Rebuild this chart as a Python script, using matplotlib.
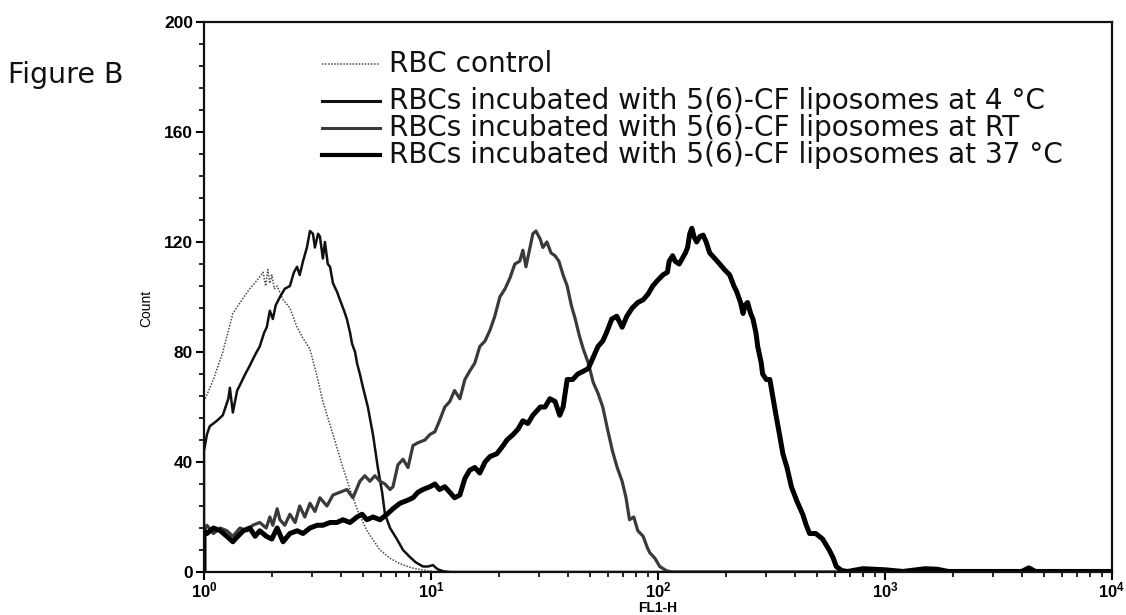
import matplotlib
matplotlib.use("Agg")
import matplotlib.pyplot as plt
from matplotlib.ticker import MultipleLocator, LogLocator, NullFormatter, FixedLocator

plt.rcParams['font.family'] = ['Liberation Sans', 'DejaVu Sans']
plt.rcParams['mathtext.fontset'] = 'custom'
plt.rcParams['mathtext.rm'] = 'Liberation Sans:bold'
plt.rcParams['mathtext.bf'] = 'Liberation Sans:bold'
plt.rcParams['mathtext.it'] = 'Liberation Sans:bold'

# ---------------- data (FL1-H, Count) ----------------
ctrl_x = [1.00, 1.10, 1.21, 1.34, 1.47, 1.59, 1.71, 1.82, 1.87, 1.91, 1.95, 1.99, 2.04, 2.10,
          2.23, 2.39, 2.57, 2.73, 2.93, 3.15, 3.34, 3.70, 4.09, 4.40, 4.77, 5.22, 5.96,
          6.60, 7.30, 8.24, 9.22, 10.4, 11.5, 10000]
ctrl_y = [62, 70, 80, 94, 99, 103, 106, 109, 104, 110, 105, 108, 103, 104,
          99, 96, 89, 85, 81, 71, 62, 50, 38, 30, 22, 15, 8,
          5, 3, 1.5, 0.7, 0.2, 0, 0]

c4_x = [1.00, 1.00, 1.03, 1.06, 1.14, 1.21, 1.28, 1.30, 1.34, 1.40, 1.44, 1.52, 1.59, 1.68,
        1.76, 1.84, 1.89, 1.95, 2.01, 2.07, 2.16, 2.27, 2.39, 2.49, 2.57, 2.64, 2.73, 2.84,
        2.93, 3.02, 3.08, 3.18, 3.24, 3.34, 3.41, 3.51, 3.59, 3.70, 3.85, 3.97, 4.14, 4.26,
        4.40, 4.49, 4.63, 4.72, 4.86, 5.02, 5.27, 5.55, 5.83, 6.09, 6.27, 6.60, 7.07, 7.53,
        8.06, 8.57, 9.22, 9.69, 10.2, 10.7, 11.3, 12.1, 10000]
c4_y = [0, 44, 50, 53, 55, 57, 63, 67, 58, 66, 68, 72, 75, 79,
        82, 87, 89, 95, 92, 97, 100, 103, 104, 109, 111, 108, 113, 118,
        124, 123, 118, 123, 122, 114, 120, 112, 111, 105, 102, 99, 95, 92,
        87, 83, 80, 76, 72, 67, 60, 50, 38, 29, 21, 16, 12, 8,
        5.5, 3.5, 2, 2, 2.5, 1, 0.3, 0, 0]

rt_x = [1.00, 1.00, 1.03, 1.10, 1.18, 1.26, 1.34, 1.44, 1.55, 1.64, 1.76, 1.88, 1.95, 2.01,
        2.10, 2.16, 2.27, 2.39, 2.52, 2.64, 2.78, 2.93, 3.08, 3.24, 3.48, 3.70, 3.97, 4.26,
        4.53, 4.86, 5.11, 5.38, 5.66, 5.96, 6.27, 6.60, 6.80, 7.15, 7.53, 7.92, 8.33, 8.76,
        9.40, 9.89, 10.4, 10.9, 11.5, 12.1, 12.7, 13.4, 14.1, 14.8, 15.6, 16.4, 17.3, 18.2,
        19.1, 20.1, 21.2, 22.3, 23.4, 24.6, 25.4, 26.2, 27.3, 28.1, 29.0, 30.3, 31.1, 32.4,
        33.8, 35.2, 36.6, 38.2, 39.8, 41.5, 43.2, 45.0, 46.9, 49.3, 51.8, 54.4, 57.1, 59.9,
        63.0, 66.1, 69.5, 72.3, 74.9, 78.2, 81.5, 86.0, 89.6, 92.0, 96.9, 101.8, 108.8, 115,
        10000]
rt_y = [0, 15, 17, 14, 16, 15, 13, 16, 15, 17, 18, 16, 20, 17,
        23, 19, 17, 21, 18, 24, 20, 25, 22, 27, 24, 28, 29, 30,
        27, 33, 35, 33, 35, 33, 32, 30, 31, 39, 41, 38, 46, 47,
        48, 50, 51, 55, 60, 62, 66, 63, 70, 73, 76, 82, 84, 88,
        93, 100, 103, 107, 112, 113, 117, 111, 118, 123, 124, 121, 118, 120,
        116, 115, 113, 108, 104, 97, 92, 86, 81, 76, 69, 65, 60, 52,
        44, 38, 33, 27, 19, 20, 15, 13, 9, 7, 5, 2, 0.5, 0,
        0]

c37_x = [1.00, 1.00, 1.03, 1.10, 1.18, 1.26, 1.34, 1.41, 1.49, 1.59, 1.68, 1.76, 1.88, 1.99,
         2.10, 2.23, 2.39, 2.57, 2.73, 2.93, 3.15, 3.34, 3.59, 3.85, 4.09, 4.40, 4.72, 4.97,
         5.22, 5.55, 5.96, 6.40, 6.80, 7.30, 7.84, 8.33, 8.76, 9.22, 9.89, 10.4, 10.9, 11.5,
         12.1, 12.7, 13.4, 14.1, 14.8, 15.6, 16.4, 17.3, 18.2, 19.5, 20.8, 21.6, 23.0, 24.2,
         25.4, 26.7, 28.1, 30.3, 31.8, 33.4, 35.2, 36.9, 38.2, 39.8, 42.1, 44.3, 46.9, 49.3,
         51.8, 54.4, 57.1, 59.3, 62.6, 65.8, 67.6, 69.5, 72.9, 77.0, 81.5, 86.0, 90.3, 94.8,
         99.5, 105, 110, 112, 116, 119, 124, 128, 132, 135, 138, 141, 144, 148,
         153, 158, 163, 169, 178, 187, 196, 207, 216, 222, 231, 237, 242, 248,
         256, 262, 270, 275, 285, 289, 300, 311, 320, 331, 343, 355, 370, 387,
         408, 434, 450, 465, 495, 531, 568, 592, 610, 646, 685, 800, 1000, 1200,
         1500, 1700, 1900, 4000, 4300, 4600, 10000]
c37_y = [0, 15, 14, 16, 15, 13, 11, 13, 15, 16, 13, 15, 13, 12,
         16, 11, 14, 15, 14, 16, 17, 17, 18, 18, 19, 18, 20, 21,
         19, 20, 19, 21, 23, 25, 26, 27, 29, 30, 31, 32, 30, 31,
         29, 27, 28, 34, 37, 38, 36, 40, 42, 43, 46, 48, 50, 52,
         55, 54, 57, 60, 60, 63, 62, 57, 60, 70, 70, 72, 73, 74,
         78, 82, 84, 87, 92, 93, 91, 89, 93, 96, 98, 99, 101, 104,
         106, 108, 109, 113, 115, 113, 112, 114, 116, 118, 123, 125, 122, 120,
         122, 122.5, 120, 116, 114, 112, 110, 108, 104, 102, 98, 94, 97, 98,
         94, 92, 87, 82, 76, 72, 70, 70, 64, 57, 50, 43, 38, 31,
         26, 21, 17, 14, 14, 12, 8, 5, 2, 0.5, 0.2, 1.2, 0.8, 0.2,
         1.2, 1.0, 0.2, 0.2, 1.5, 0.2, 0.2]

legend_labels = ["RBC control",
                 "RBCs incubated with 5(6)-CF liposomes at 4 °C",
                 "RBCs incubated with 5(6)-CF liposomes at RT",
                 "RBCs incubated with 5(6)-CF liposomes at 37 °C"]
y_ticks = [0, 40, 80, 120, 160, 200]
x_ticks = [1, 10, 100, 1000, 10000]
x_ticklabels = [r"$10^0$", r"$10^1$", r"$10^2$", r"$10^3$", r"$10^4$"]

# ---------------- figure ----------------
W, H = 1126, 615
fig = plt.figure(figsize=(W / 100, H / 100), dpi=100)
ax = fig.add_axes([204 / W, 43 / H, 908 / W, 550 / H])

styles = [
    dict(color="#4a4a4a", lw=1.1, ls=(0, (1, 1))),
    dict(color="#111111", lw=1.8, ls="-"),
    dict(color="#3a3a3a", lw=2.3, ls="-"),
    dict(color="#000000", lw=3.6, ls="-"),
]
series = [(ctrl_x, ctrl_y), (c4_x, c4_y), (rt_x, rt_y), (c37_x, c37_y)]
for (xs, ys), st in zip(series, styles):
    ax.plot(xs, ys, color=st["color"], lw=st["lw"], ls=st["ls"],
            solid_joinstyle="round", clip_on=True)

ax.set_xscale("log")
ax.set_xlim(1, 10000)
ax.set_ylim(0, 200)

ax.yaxis.set_major_locator(FixedLocator(y_ticks))
ax.yaxis.set_minor_locator(MultipleLocator(8))
ax.set_yticklabels([str(v) for v in y_ticks], fontsize=12.5, fontweight="bold")
ax.xaxis.set_major_locator(FixedLocator(x_ticks))
ax.set_xticklabels(x_ticklabels, fontsize=12)
ax.xaxis.set_minor_locator(LogLocator(base=10, subs=range(2, 10)))
ax.xaxis.set_minor_formatter(NullFormatter())

ax.tick_params(axis="both", which="major", direction="out", length=6, width=1.5,
               top=False, right=False, pad=2)
ax.tick_params(axis="x", which="major", pad=0)
ax.tick_params(axis="both", which="minor", direction="out", length=3.5, width=1.2,
               top=False, right=False)
for sp in ax.spines.values():
    sp.set_linewidth(1.6)
    sp.set_color("#111111")

ax.set_xlabel("FL1-H", fontsize=10, fontweight="bold")
ax.xaxis.set_label_coords(0.5, -0.052)
ax.set_ylabel("Count", fontsize=10)
ax.yaxis.set_label_coords(-0.056, 0.48)

# legend (manual, uneven spacing as in the original)
leg_rows_y = [64, 101, 128, 155]
for st, lab, py in zip(styles, legend_labels, leg_rows_y):
    yy = 1 - py / H
    lw = 1.1 if st["ls"] != "-" else (3.0 if st["lw"] > 3 else 2.2)
    fig.add_artist(plt.Line2D([322 / W, 380 / W], [yy, yy], color=st["color"],
                              lw=lw, ls=st["ls"]))
    fig.text(389 / W, 1 - (py - 3) / H, lab, fontsize=20.2, va="center_baseline",
             ha="left", color="#111111", family=["DejaVu Sans"])

fig.text(8 / W, 1 - 72 / H, "Figure B", fontsize=20.5, va="center_baseline", ha="left",
         color="#111111", family=["DejaVu Sans"])

fig.savefig("out.png", dpi=100, facecolor="white")
